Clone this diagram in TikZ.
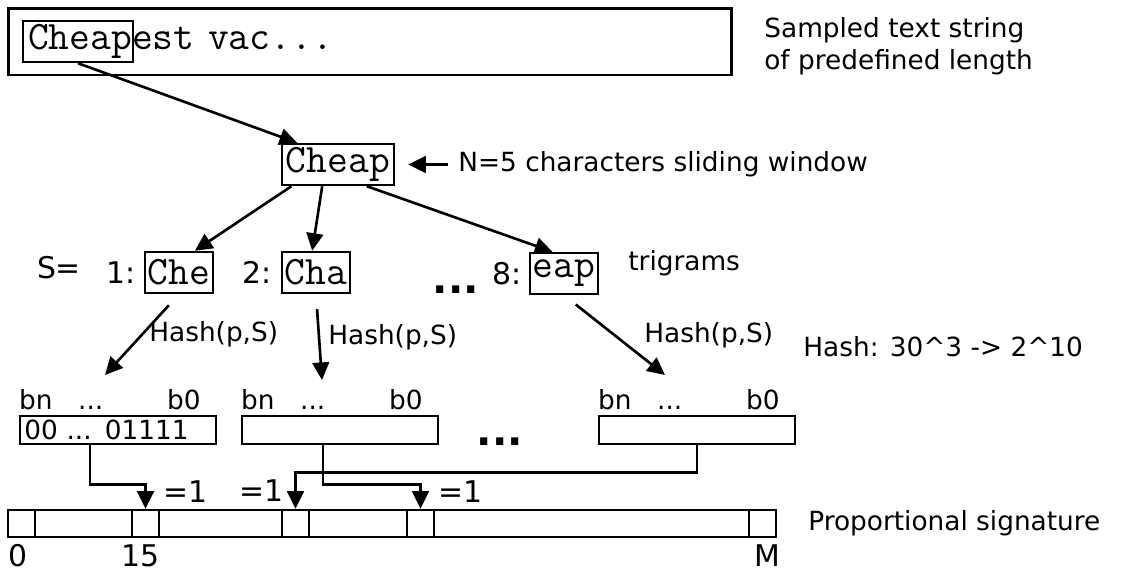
\documentclass[tikz,border=0pt]{standalone}
\usepackage{fontspec}
\setmainfont{DejaVu Sans}
\usetikzlibrary{arrows.meta,positioning}
\tikzstyle{lbl}=[inner sep=0pt,font=\fontsize{15}{18}\selectfont]
\tikzstyle{lblbig}=[inner sep=0pt,font=\fontsize{17}{20}\selectfont]
\tikzstyle{dots}=[inner sep=0pt,font=\fontsize{23}{26}\selectfont\bfseries]
\tikzstyle{strbox}=[rectangle,draw,line width=1.7pt,font=\ttfamily\fontsize{23}{27}\selectfont,align=left]
\tikzstyle{gram}=[rectangle,draw,line width=1.4pt,font=\ttfamily\fontsize{23}{27}\selectfont,minimum width=1.36cm,minimum height=0.82cm,inner sep=1pt]
\tikzstyle{bitbox}=[rectangle,draw,line width=1.4pt,font=\fontsize{15}{18}\selectfont,minimum width=3.92cm,minimum height=0.56cm,inner sep=0pt]
\tikzstyle{cell}=[rectangle,draw,line width=1.4pt,minimum width=0.54cm,minimum height=0.54cm,inner sep=0pt]
\tikzstyle{arr}=[-{Triangle[length=10pt,width=9.5pt]},line width=1.5pt]
\begin{document}
\begin{tikzpicture}[x=0.02cm,y=-0.02cm]
\useasboundingbox (0,0) rectangle (1124,575);
% sampled string
\node[strbox, text width=13.68cm, inner xsep=0.4cm, minimum height=1.34cm] (str) at (370,41.5) {Cheapest vac...};
\node[draw, line width=1.4pt, minimum width=2.2cm, minimum height=0.82cm] (win0) at (78,41.5) {};
\node[lbl, anchor=north west, align=left] (strtxt) at (764,17) {Sampled text string\\of predefined length};
% window
\node[gram, minimum width=2.24cm] (win) at (338,164.5) {Cheap};
\node[lbl, anchor=west] (nwin) at (458,164.5) {N=5 characters sliding window};
\draw[arr] (win0.south) -- (win.152);
\draw[arr, shorten <=0.2cm, shorten >=0.26cm] (nwin.west) -- (win.east);
% trigrams
\node[gram] (che) at (179,272.5) {Che};
\node[gram] (cha) at (316,272.5) {Cha};
\node[gram] (eap) at (564,273.5) {eap};
\node[lblbig] (s) at (59,268) {S=};
\node[lblbig, left=0.15cm of che] (n1) {1:};
\node[lblbig, left=0.18cm of cha] (n2) {2:};
\node[lblbig, left=0.14cm of eap] (n8) {8:};
\node[dots, anchor=base] (dots1) at (456,293) {...};
\node[lbl, anchor=west] (tri) at (628,263) {trigrams};
\draw[arr] (win.205) -- (che.54);
\draw[arr] (win.234) -- (cha.100);
\draw[arr] (win.-37) -- (eap.118);
% hashing
\coordinate (h1) at (105,375);
\coordinate (h2) at (322,380);
\coordinate (h3) at (665,375);
\draw[arr, shorten <=0.3cm] (che.south) -- node[lbl, right=0.12cm] (hl1) {Hash(p,S)} (h1);
\draw[arr, shorten <=0.3cm] (cha.south) -- node[lbl, right=0.16cm] (hl2) {Hash(p,S)} (h2);
\draw[arr, shorten <=0.3cm] (eap.south) -- node[lbl, right=0.57cm] (hl3) {Hash(p,S)} (h3);
\node[lbl, anchor=west] (hashmap) at (803,347) {Hash: 30\textasciicircum 3 -> 2\textasciicircum 10};
% bit vectors
\node[bitbox, text width=3.75cm, align=left] (bits1) at (118,430) {00 ... 01111};
\node[bitbox] (bits2) at (340,430) {};
\node[bitbox] (bits3) at (697,430) {};
\node[dots, anchor=base] (dots2) at (500,445) {...};
\foreach \b in {bits1,bits2,bits3}{
  \node[lbl, anchor=base west] (\b-bn) at ([yshift=0.1cm]\b.north west) {bn};
  \node[lbl, anchor=base] (\b-dd) at ([xshift=1.44cm,yshift=0.1cm]\b.north west) {...};
  \node[lbl, anchor=base west] (\b-bz) at ([xshift=2.96cm,yshift=0.1cm]\b.north west) {b0};
}
% signature
\node[rectangle, draw, line width=1.4pt, minimum width=15.36cm, minimum height=0.54cm] (sig) at (392,523.5) {};
\foreach \n/\x in {c0/21.5,c15/145.5,ca/295.5,cb/420.5,cM/762.5}
  \node[cell] (\n) at (\x,523.5) {};
\node[lblbig, below=0.12cm of c0, xshift=-0.07cm] (l0) {0};
\node[lblbig, below=0.12cm of c15, xshift=-0.1cm] (l15) {15};
\node[lblbig, below=0.12cm of cM, xshift=0.1cm] (lM) {M};
\node[lbl, anchor=west] (sigtxt) at (808,523) {Proportional signature};
\draw[arr] ([xshift=-0.56cm]bits1.south) -- ++(0,39) -| node[pos=0.65, lblbig, right=0.34cm] (eq1) {=1} (c15.north);
\draw[arr] (bits3.south) -- ++(0,27) -| node[pos=0.75, lblbig, left=0.21cm] (eq2) {=1} (ca.north);
\draw[arr] ([xshift=-0.34cm]bits2.south) -- ++(0,39) -| node[pos=0.65, lblbig, right=0.33cm] (eq3) {=1} (cb.north);
\end{tikzpicture}
\end{document}
